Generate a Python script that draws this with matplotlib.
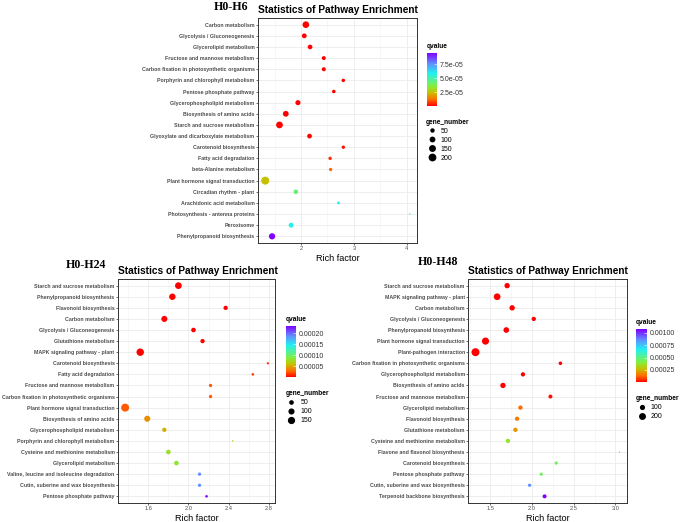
import numpy as np
import matplotlib
matplotlib.use('Agg')
import matplotlib.pyplot as plt
from matplotlib.colors import LinearSegmentedColormap, Normalize
from matplotlib.lines import Line2D
from matplotlib.ticker import MultipleLocator

plt.rcParams['font.family'] = ['Liberation Sans', 'DejaVu Sans']

# ---------------- data ----------------
h6_terms = ['Carbon metabolism', 'Glycolysis / Gluconeogenesis', 'Glycerolipid metabolism',
            'Fructose and mannose metabolism', 'Carbon fixation in photosynthetic organisms',
            'Porphyrin and chlorophyll metabolism', 'Pentose phosphate pathway',
            'Glycerophospholipid metabolism', 'Biosynthesis of amino acids',
            'Starch and sucrose metabolism', 'Glyoxylate and dicarboxylate metabolism',
            'Carotenoid biosynthesis', 'Fatty acid degradation', 'beta-Alanine metabolism',
            'Plant hormone signal transduction', 'Circadian rhythm - plant',
            'Arachidonic acid metabolism', 'Photosynthesis - antenna proteins',
            'Peroxisome', 'Phenylpropanoid biosynthesis']
h6_rich = [2.09, 2.06, 2.17, 2.43, 2.43, 2.80, 2.62, 1.94, 1.71, 1.59,
           2.16, 2.80, 2.55, 2.56, 1.32, 1.90, 2.71, 4.06, 1.81, 1.45]
h6_genes = [138, 62, 58, 40, 41, 28, 30, 72, 98, 141,
            60, 26, 27, 25, 212, 57, 18, 8, 63, 118]
h6_q = [1e-12, 2e-10, 5e-9, 3e-8, 4e-8, 1e-7, 2e-7, 3e-9, 1e-10, 1e-11,
        6e-7, 1.5e-6, 5e-6, 1.1e-5, 2.4e-5, 4.2e-5, 5.9e-5, 5.9e-5, 5.8e-5, 9.5e-5]

h24_terms = ['Starch and sucrose metabolism', 'Phenylpropanoid biosynthesis',
             'Flavonoid biosynthesis', 'Carbon metabolism', 'Glycolysis / Gluconeogenesis',
             'Glutathione metabolism', 'MAPK signaling pathway - plant',
             'Carotenoid biosynthesis', 'Fatty acid degradation',
             'Fructose and mannose metabolism', 'Carbon fixation in photosynthetic organisms',
             'Plant hormone signal transduction', 'Biosynthesis of amino acids',
             'Glycerophospholipid metabolism', 'Porphyrin and chlorophyll metabolism',
             'Cysteine and methionine metabolism', 'Glycerolipid metabolism',
             'Valine, leucine and isoleucine degradation',
             'Cutin, suberine and wax biosynthesis', 'Pentose phosphate pathway']
h24_rich = [1.90, 1.84, 2.37, 1.76, 2.05, 2.14, 1.52, 2.79, 2.64, 2.22,
            2.22, 1.37, 1.59, 1.76, 2.44, 1.80, 1.88, 2.11, 2.11, 2.18]
h24_genes = [125, 111, 41, 98, 49, 41, 160, 8, 11, 20,
             20, 190, 98, 41, 5, 49, 49, 20, 20, 11]
h24_q = [1e-12, 1e-11, 2e-9, 5e-11, 4e-9, 8e-8, 1e-10, 1.2e-5, 1.6e-5, 2.3e-5,
         2.3e-5, 2.4e-5, 4.2e-5, 5.4e-5, 6.0e-5, 7.8e-5, 8.2e-5, 1.88e-4, 1.88e-4, 2.35e-4]

h48_terms = ['Starch and sucrose metabolism', 'MAPK signaling pathway - plant',
             'Carbon metabolism', 'Glycolysis / Gluconeogenesis',
             'Phenylpropanoid biosynthesis', 'Plant hormone signal transduction',
             'Plant-pathogen interaction', 'Carbon fixation in photosynthetic organisms',
             'Glycerophospholipid metabolism', 'Biosynthesis of amino acids',
             'Fructose and mannose metabolism', 'Glycerolipid metabolism',
             'Flavonoid biosynthesis', 'Glutathione metabolism',
             'Cysteine and methionine metabolism', 'Flavone and flavonol biosynthesis',
             'Carotenoid biosynthesis', 'Pentose phosphate pathway',
             'Cutin, suberine and wax biosynthesis', 'Terpenoid backbone biosynthesis']
h48_rich = [1.70, 1.58, 1.76, 2.02, 1.69, 1.44, 1.32, 2.34, 1.89, 1.65,
            2.22, 1.86, 1.82, 1.80, 1.71, 3.05, 2.29, 2.11, 1.97, 2.15]
h48_genes = [108, 188, 108, 62, 124, 217, 285, 38, 62, 108,
             51, 62, 62, 62, 62, 8, 30, 30, 30, 51]
h48_q = [1e-12, 1e-11, 5e-11, 1e-9, 2e-10, 3e-11, 1e-12, 2e-7, 6e-8, 1e-8,
         2e-5, 1.3e-4, 1.6e-4, 2.0e-4, 3.7e-4, 4.5e-4, 4.5e-4, 4.5e-4, 8.6e-4, 1.07e-3]

cmap = LinearSegmentedColormap.from_list('qv', [
    (0.0, '#ff0000'), (0.12, '#ff6a00'), (0.25, '#c8c000'), (0.38, '#80f040'),
    (0.5, '#50f0a0'), (0.62, '#20f0f0'), (0.8, '#6090ff'), (1.0, '#8000ff')])

W, H = 685, 522
fig = plt.figure(figsize=(6.85, 5.22), dpi=100)


def rect(x0, y0, x1, y1):
    return [x0 / W, 1 - y1 / H, (x1 - x0) / W, (y1 - y0) / H]


def dot_diam(g, gmin, gmax):
    g = np.asarray(g, float)
    return 1.4 + 6.6 * np.sqrt((g - gmin) / (gmax - gmin))


def panel(ax_px, cb_px, leg_px, terms, rich, genes, q, xticks, xfmt, minor,
          cb_ticks, cb_labels, size_breaks, tag, tag_xy):
    ax = fig.add_axes(rect(*ax_px))
    gmin, gmax = min(genes), max(genes)
    norm = Normalize(min(q), max(q))
    ypos = np.arange(len(terms))
    s = (dot_diam(genes, gmin, gmax) * 0.72) ** 2
    ax.scatter(rich, ypos, s=s, c=q, cmap=cmap, norm=norm, linewidths=0, zorder=3)
    ax.margins(x=0.05)
    ax.set_ylim(len(terms) - 0.4, -0.6)
    ax.set_yticks(ypos)
    ax.set_yticklabels(terms, fontsize=3.8, fontweight='bold', color='#4d4d4d')
    ax.set_xticks(xticks)
    ax.set_xticklabels([xfmt % v for v in xticks], fontsize=4.1, color='#4d4d4d')
    ax.xaxis.set_minor_locator(MultipleLocator(minor))
    ax.grid(True, which='major', color='#ebebeb', linewidth=0.6, zorder=0)
    ax.grid(True, which='minor', axis='x', color='#f2f2f2', linewidth=0.4, zorder=0)
    ax.set_axisbelow(True)
    ax.tick_params(which='major', length=1.5, width=0.5, color='#333333', pad=1)
    ax.tick_params(which='minor', length=0)
    for sp in ax.spines.values():
        sp.set_color('#333333')
        sp.set_linewidth(0.7)
    ax.set_xlabel('Rich factor', fontsize=6.6, labelpad=2)
    ax.set_title('Statistics of Pathway Enrichment', loc='left', fontsize=7.3,
                 fontweight='bold', pad=3.7)

    cax = fig.add_axes(rect(*cb_px))
    sm = plt.cm.ScalarMappable(norm=norm, cmap=cmap)
    cb = fig.colorbar(sm, cax=cax)
    cb.outline.set_visible(False)
    cb.set_ticks(cb_ticks)
    cb.set_ticklabels(cb_labels)
    cax.tick_params(length=2, width=0.4, color='white', direction='in', labelsize=5,
                    labelcolor='#333333', pad=2)
    fig.text(cb_px[0] / W, 1 - (cb_px[1] - 6.5) / H, 'qvalue', fontsize=4.8,
             fontweight='bold', ha='left', va='center')

    handles = [Line2D([], [], marker='o', ls='', color='black', markeredgewidth=0,
                      markersize=float(dot_diam(b, gmin, gmax)) * 0.72)
               for b in size_breaks]
    fig.legend(handles, [str(b) for b in size_breaks], title='gene_number',
               loc='upper left', bbox_to_anchor=(leg_px[0] / W, 1 - leg_px[1] / H),
               frameon=False, fontsize=5, alignment='left', borderpad=0,
               borderaxespad=0, labelspacing=0.3, handlelength=1.6,
               handletextpad=0.5, title_fontproperties={'weight': 'bold', 'size': 4.8})

    fig.text(tag_xy[0] / W, 1 - tag_xy[1] / H, tag, family='Liberation Serif',
             fontweight='bold', fontsize=8.6, ha='center', va='center')
    return ax


panel((258, 18, 417, 243), (426.7, 53, 436.7, 106), (426, 118.5),
      h6_terms, h6_rich, h6_genes, h6_q, [2, 3, 4], '%d', 0.5,
      [2.5e-5, 5e-5, 7.5e-5], ['2.5e-05', '5.0e-05', '7.5e-05'],
      [50, 100, 150, 200], 'H0-H6', (231, 7))

panel((118, 279, 275, 503), (285.7, 325.7, 295.7, 377.3), (285.7, 390),
      h24_terms, h24_rich, h24_genes, h24_q, [1.6, 2.0, 2.4, 2.8], '%.1f', 0.2,
      [5e-5, 1e-4, 1.5e-4, 2e-4], ['0.00005', '0.00010', '0.00015', '0.00020'],
      [50, 100, 150], 'H0-H24', (85.5, 265))

panel((468.3, 279, 626.7, 503), (636, 329.3, 646.7, 382.3), (636, 395),
      h48_terms, h48_rich, h48_genes, h48_q, [1.5, 2.0, 2.5, 3.0], '%.1f', 0.25,
      [2.5e-4, 5e-4, 7.5e-4, 1e-3], ['0.00025', '0.00050', '0.00075', '0.00100'],
      [100, 200], 'H0-H48', (438.5, 262.3))

fig.savefig('out.png', dpi=100)
